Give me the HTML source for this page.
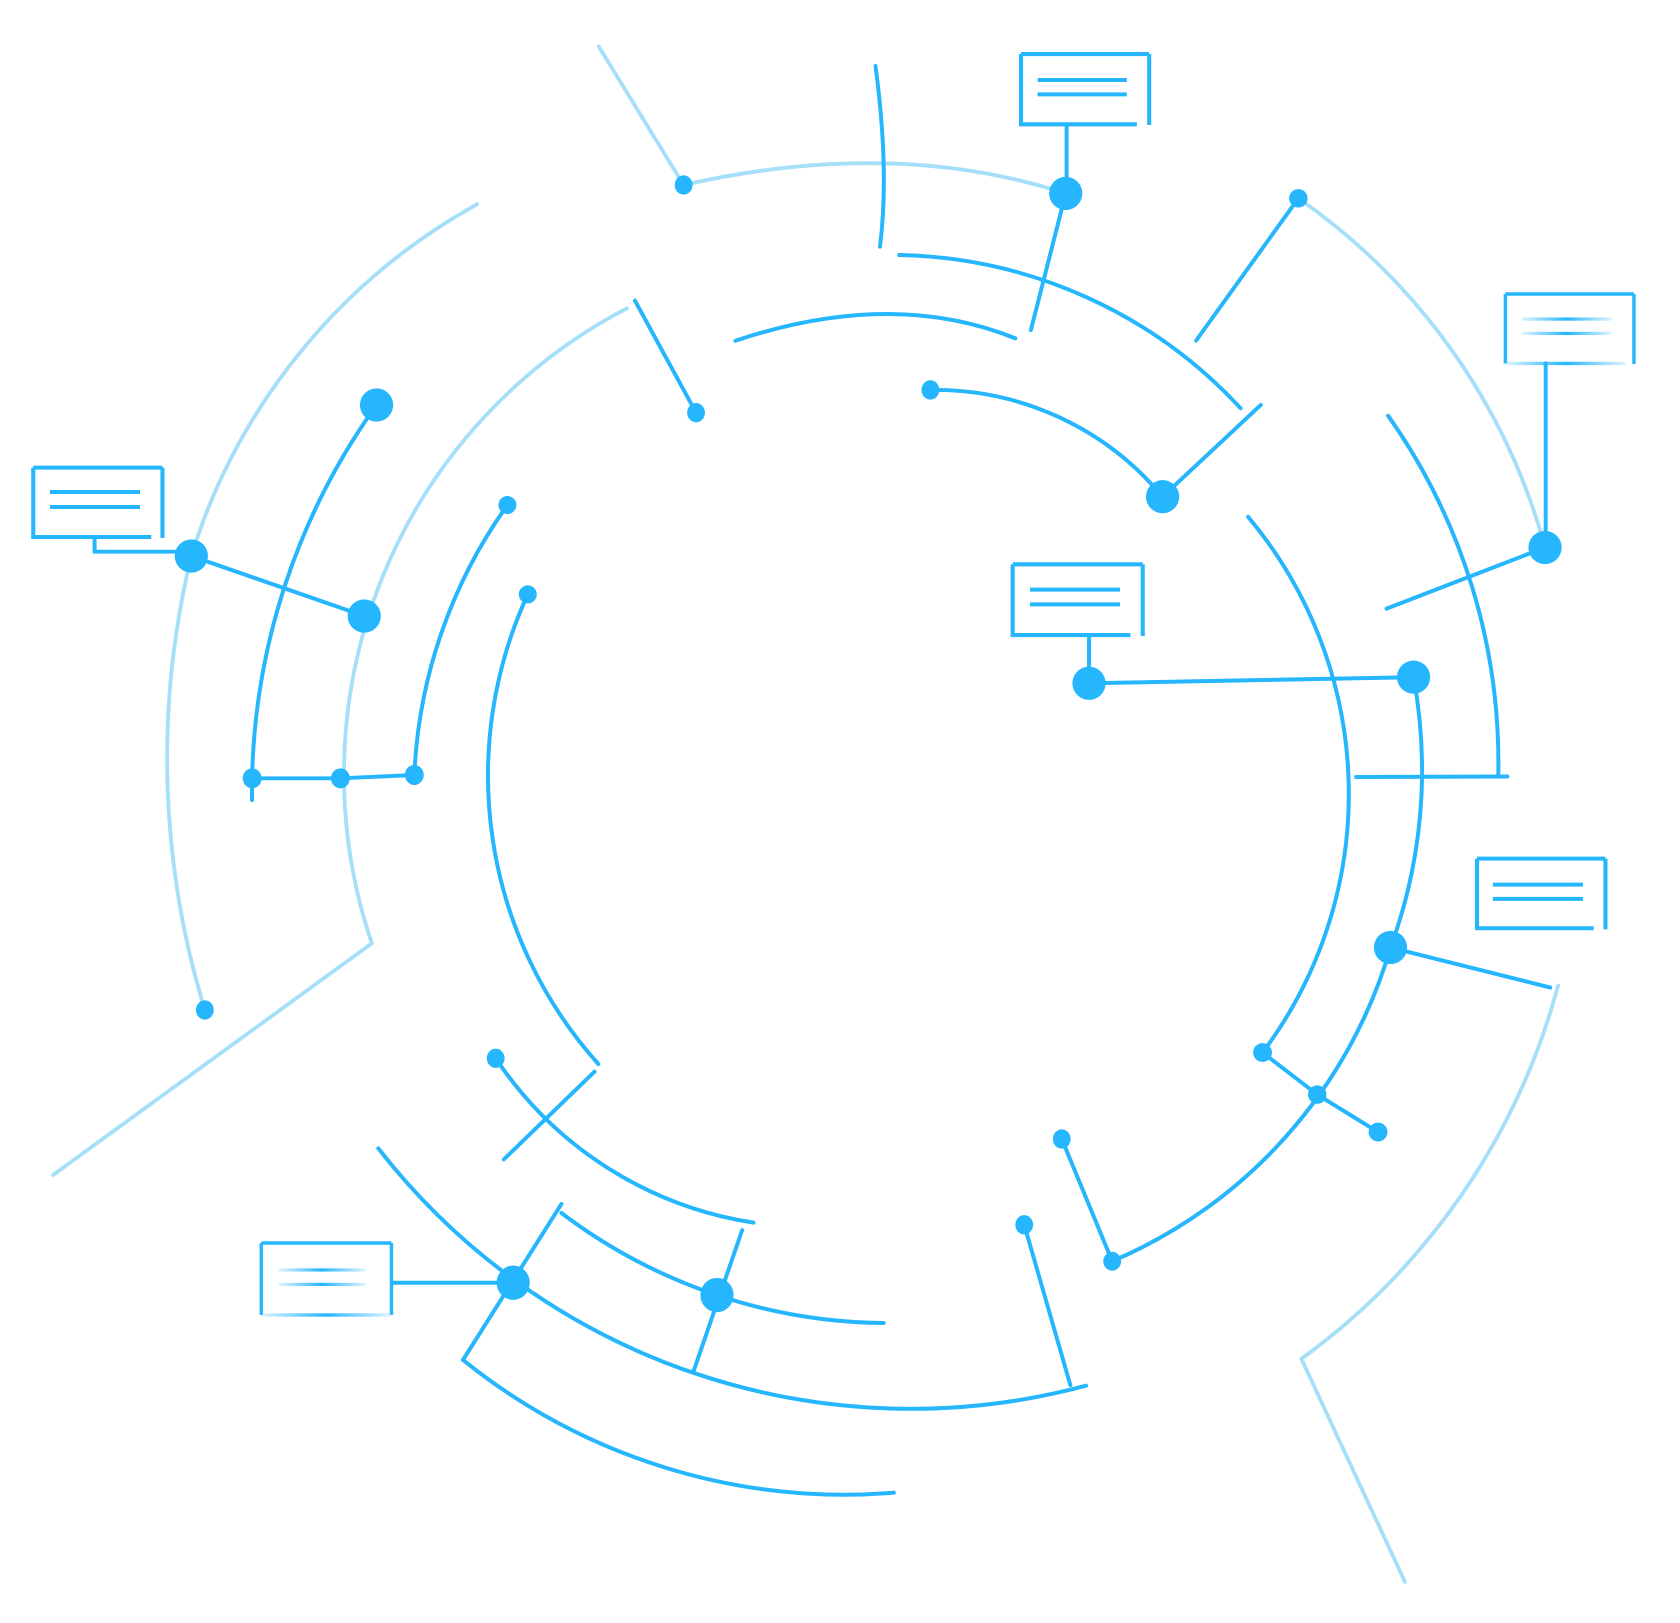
<!DOCTYPE html>
<html>
<head>
<meta charset="utf-8">
<style>
  html, body { margin:0; padding:0; background:#ffffff; }
  svg { display:block; }
</style>
</head>
<body>
<svg width="1680" height="1623" viewBox="0 0 1566.43 1513.29" preserveAspectRatio="none" xmlns="http://www.w3.org/2000/svg">
  <defs>
    <linearGradient id="fade" x1="0" y1="0" x2="1" y2="0">
      <stop offset="0" stop-color="#25b6fd" stop-opacity="0.15"/>
      <stop offset="0.5" stop-color="#25b6fd" stop-opacity="1"/>
      <stop offset="1" stop-color="#25b6fd" stop-opacity="0.15"/>
    </linearGradient>
  </defs>
  <rect x="0" y="0" width="1566.43" height="1513.29" fill="#ffffff"/>

  <!-- light (faded) connectors -->
  <g fill="none" stroke="#a6dffa" stroke-width="3.6" stroke-linecap="round" stroke-linejoin="round">
    <path d="M558.3,43.5 L637.4,172.5"/>
    <path d="M637.4,172.5 Q832.25,128.2 993.7,180.3"/>
    <path d="M584.5,287.5 A490,490 0 0 0 346.7,879.6 L49.4,1095.6"/>
    <path d="M444.8,190.5 A565,565 0 0 0 178.4,518.4 A800,800 0 0 0 191,941.7"/>
    <path d="M1452.7,919 A630,630 0 0 1 1213.4,1267 L1310,1475"/>
    <path d="M1210.6,184.9 A583,583 0 0 1 1440.6,510.5"/>
  </g>

  <!-- main connectors -->
  <g fill="none" stroke="#25b6fd" stroke-width="3.7" stroke-linecap="round" stroke-linejoin="round">
    <path d="M961.2,307.7 L993.7,180.3"/>
    <path d="M816.3,61.5 Q829.4,158.9 820.5,230"/>
    <path d="M838.5,237.8 A445,445 0 0 1 1156.8,380.7"/>
    <path d="M685.7,317.7 Q831.6,269 946.7,315.5"/>
    <path d="M592,280.3 L649,384.8"/>
    <path d="M351.1,377.6 A619,619 0 0 0 235,727 L235,746"/>
    <path d="M235,725.7 L317.4,725.7 L386.3,722.6"/>
    <path d="M473.1,470.9 A468,468 0 0 0 386.3,722.6"/>
    <path d="M492.1,554.2 A403,403 0 0 0 557.9,992.1"/>
    <path d="M178.4,518.4 L339.6,574.4"/>
    <path d="M1163.7,481.9 A402,402 0 0 1 1177.2,981.4"/>
    <path d="M1177.2,981.4 L1228.2,1020.6 L1284.9,1055.5"/>
    <path d="M1318,631.4 A479,479 0 0 1 1296.5,883.5 A456,456 0 0 1 1037,1176"/>
    <path d="M1037,1176 L990,1062"/>
    <path d="M1015.4,637.1 L1318,631.4"/>
    <path d="M1296.5,883.5 L1445.5,920.8"/>
    <path d="M1294.2,387.6 A560,560 0 0 1 1397,722"/>
    <path d="M1264.4,724.5 L1405.5,724"/>
    <path d="M1210.6,184.9 L1115.2,317.6"/>
    <path d="M1440.6,510.5 L1292.8,567.5"/>
    <path d="M867.5,363.6 A276,276 0 0 1 1084,463.1"/>
    <path d="M1084,463.1 L1175.6,377.6"/>
    <path d="M462.2,986.8 A353,353 0 0 0 702.6,1140"/>
    <path d="M554.3,999.2 L469.8,1081"/>
    <path d="M352.7,1070.7 A629,629 0 0 0 1012.6,1292"/>
    <path d="M998,1291.5 L955,1142"/>
    <path d="M523.5,1122.6 L431.7,1268"/>
    <path d="M431.7,1268 A567,567 0 0 0 833.4,1391.8"/>
    <path d="M523.5,1131 A505,505 0 0 0 824,1233.6"/>
    <path d="M692,1147 L646.5,1279"/>
    <!-- box connectors -->
    <path d="M994.5,115.9 V170"/>
    <path d="M88.2,500.7 V514.4 H165"/>
    <path d="M1015.4,592.1 V625"/>
    <path d="M1441.2,338.8 V495"/>
    <path d="M367,1196 H465"/>
  </g>

  <!-- boxes -->
  <g fill="none" stroke="#25b6fd" stroke-width="3.8" stroke-linecap="butt">
    <path d="M952,50.4 H1071.5 M1071.5,50.4 V116.5 M952,50.4 V115.9 H1060"/>
    <path d="M31,436 H151.5 M151.5,436 V501.5 M31,436 V500.7 H141"/>
    <path d="M944.2,526.2 H1065.5 M1065.5,526.2 V593 M944.2,526.2 V592.1 H1054"/>
    <path d="M1377.2,800.6 H1496.9 M1496.9,800.6 V866.5 M1377.2,800.6 V865.5 H1486"/>
  </g>
  <g fill="none" stroke="#25b6fd" stroke-width="3.2" stroke-linecap="butt">
    <path d="M1403.6,274.1 H1523.5 M1523.5,274.1 V339.5 M1403.6,274.1 V338.8"/>
    <path d="M243.6,1159 H365 M365,1159 V1226 M243.6,1159 V1226"/>
  </g>
  <rect x="1403.6" y="337.3" width="112" height="3.2" fill="url(#fade)"/>
  <rect x="243.6" y="1224.5" width="121" height="3.2" fill="url(#fade)"/>

  <!-- box text lines -->
  <g fill="none" stroke="#25b6fd" stroke-width="3.7">
    <path d="M967.5,74.6 H1050.7 M967.5,88 H1050.7"/>
    <path d="M46.6,458.7 H130.5 M46.6,472.7 H130.5"/>
    <path d="M960.4,549.8 H1044.3 M960.4,563.5 H1044.3"/>
    <path d="M1392,824.8 H1476 M1392,838.1 H1476"/>
  </g>
  <rect x="1418.8" y="296" width="83.9" height="3" fill="url(#fade)"/>
  <rect x="1418.8" y="309.4" width="83.9" height="3" fill="url(#fade)"/>
  <rect x="260" y="1182.6" width="81" height="3" fill="url(#fade)"/>
  <rect x="260" y="1196.1" width="81" height="3" fill="url(#fade)"/>

  <!-- large nodes -->
  <g fill="#25b6fd">
    <circle cx="993.7" cy="180.3" r="15.5"/>
    <circle cx="1084" cy="463.1" r="15.5"/>
    <circle cx="1440.6" cy="510.5" r="15.5"/>
    <circle cx="1318" cy="631.4" r="15.5"/>
    <circle cx="1015.4" cy="637.1" r="15.5"/>
    <circle cx="1296.5" cy="883.5" r="15.5"/>
    <circle cx="351.1" cy="377.6" r="15.5"/>
    <circle cx="178.4" cy="518.4" r="15.5"/>
    <circle cx="339.6" cy="574.4" r="15.5"/>
    <ellipse cx="478.5" cy="1196" rx="15.5" ry="16"/>
    <ellipse cx="668.5" cy="1207.5" rx="15.5" ry="16"/>
  </g>

  <!-- small nodes -->
  <g fill="#25b6fd">
    <ellipse cx="637.4" cy="172.5" rx="8.3" ry="9"/>
    <ellipse cx="649" cy="384.8" rx="8.3" ry="9"/>
    <ellipse cx="867.5" cy="363.6" rx="8.3" ry="9"/>
    <circle cx="1210.6" cy="184.9" r="8.6"/>
    <circle cx="473.1" cy="470.9" r="8.4"/>
    <circle cx="492.1" cy="554.2" r="8.4"/>
    <ellipse cx="235.1" cy="725.7" rx="8.8" ry="9.3"/>
    <ellipse cx="317.4" cy="725.7" rx="8.8" ry="9.3"/>
    <ellipse cx="386.3" cy="722.6" rx="8.8" ry="9.3"/>
    <ellipse cx="191" cy="941.7" rx="8.3" ry="9"/>
    <ellipse cx="462.2" cy="986.8" rx="8.3" ry="9"/>
    <circle cx="1177.2" cy="981.4" r="8.8"/>
    <circle cx="1228.2" cy="1020.6" r="8.6"/>
    <circle cx="1284.9" cy="1055.5" r="8.8"/>
    <ellipse cx="990" cy="1062" rx="8.3" ry="9"/>
    <ellipse cx="1037" cy="1176" rx="8.3" ry="8.8"/>
    <ellipse cx="955" cy="1142" rx="8.3" ry="9"/>
  </g>
</svg>
</body>
</html>
